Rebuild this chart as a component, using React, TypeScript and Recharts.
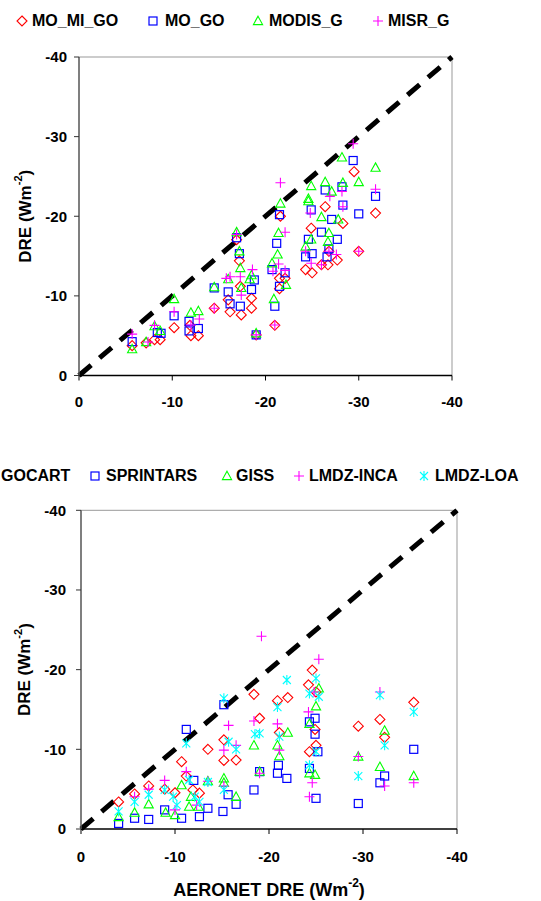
import { ScatterChart, Scatter, XAxis, YAxis, ReferenceLine, Legend } from 'recharts';

const FONT = '"Liberation Sans", Arial, Helvetica, sans-serif';
const TICKS = [0, -10, -20, -30, -40];

// top panel: satellite-based DRE vs AERONET
const moMiGo: [number, number][] = [
  [-5.7, -3.75], [-7.2, -4.1], [-8.1, -4.5], [-8.7, -4.5], [-10.2, -6.0], [-12.0, -5.0], [-12.8, -5.0],
  [-11.9, -6.3], [-14.5, -8.45], [-16.0, -9.5], [-16.2, -8.0], [-16.9, -17.05], [-17.2, -14.4], [-17.3, -11.2],
  [-17.4, -7.6], [-18.5, -9.7], [-18.5, -8.45], [-19.0, -5.1], [-21.0, -6.3], [-21.6, -20.0], [-21.5, -12.2],
  [-22.1, -12.2], [-21.5, -10.9], [-24.9, -18.5], [-26.0, -13.9], [-26.7, -13.9], [-27.7, -14.5], [-26.8, -15.6],
  [-24.3, -13.3], [-25.0, -12.9], [-26.4, -21.2], [-28.3, -19.1], [-29.5, -25.6], [-31.8, -20.4], [-30.0, -15.6],
];
const moGo: [number, number][] = [
  [-5.7, -4.25], [-8.4, -5.4], [-8.8, -5.3], [-10.2, -7.5], [-11.8, -6.8], [-11.8, -5.6], [-12.8, -5.9],
  [-14.5, -11.0], [-16.0, -10.5], [-16.2, -9.0], [-16.9, -17.3], [-17.2, -15.3], [-17.3, -8.7], [-18.5, -10.8],
  [-18.8, -12.0], [-19.0, -5.1], [-21.5, -20.2], [-21.2, -16.6], [-20.7, -13.3], [-21.0, -8.7], [-22.1, -12.9],
  [-21.5, -11.2], [-24.9, -20.8], [-28.3, -21.4], [-27.1, -19.6], [-30.0, -20.3], [-31.8, -22.5], [-26.0, -18.0],
  [-24.6, -17.1], [-27.7, -17.1], [-25.0, -15.3], [-24.3, -14.9], [-26.8, -15.9], [-26.6, -14.9], [-26.4, -23.3],
  [-28.2, -23.7], [-29.4, -27.0],
];
const modisG: [number, number][] = [
  [-5.7, -3.3], [-7.2, -4.2], [-8.1, -6.2], [-8.7, -5.6], [-10.2, -9.6], [-12.0, -7.9], [-12.8, -8.1],
  [-14.5, -11.1], [-16.0, -12.1], [-16.9, -18.0], [-17.2, -15.6], [-17.3, -13.5], [-17.4, -11.0], [-18.5, -12.6],
  [-18.3, -12.1], [-19.0, -5.3], [-21.6, -21.6], [-21.4, -17.9], [-21.3, -15.2], [-20.7, -14.1], [-20.9, -9.6],
  [-22.2, -11.4], [-24.6, -21.9], [-26.0, -19.9], [-27.8, -19.6], [-26.8, -17.9], [-24.9, -17.1], [-26.7, -16.8],
  [-24.3, -16.2], [-24.9, -23.8], [-26.4, -24.3], [-27.1, -23.1], [-28.3, -24.2], [-24.6, -22.2], [-28.2, -27.4],
  [-31.8, -26.1], [-30.0, -24.3],
];
const misrG: [number, number][] = [
  [-5.7, -5.2], [-7.4, -4.2], [-8.1, -6.3], [-10.2, -8.0], [-12.0, -6.35], [-12.9, -7.1], [-14.5, -8.45],
  [-15.8, -12.2], [-16.2, -12.4], [-16.9, -17.7], [-17.3, -12.4], [-17.4, -10.1], [-18.6, -13.3], [-19.0, -5.1],
  [-21.0, -6.35], [-21.6, -24.2], [-22.1, -18.0], [-21.4, -14.0], [-20.8, -13.1], [-22.1, -13.2], [-24.8, -20.4],
  [-28.3, -21.2], [-24.3, -15.6], [-26.8, -15.6], [-27.6, -15.2], [-26.0, -13.9], [-24.9, -14.1], [-30.0, -15.6],
  [-29.4, -29.1], [-31.8, -23.4], [-26.9, -22.5], [-28.2, -23.1],
];

// bottom panel: model DRE vs AERONET
const gocart: [number, number][] = [
  [-4.0, -3.4], [-5.7, -4.4], [-7.2, -5.4], [-8.9, -5.0], [-10.0, -4.55], [-10.7, -8.45], [-11.2, -6.65],
  [-11.9, -4.9], [-12.6, -4.5], [-13.5, -10.0], [-15.2, -11.2], [-15.2, -8.6], [-16.5, -8.65], [-18.4, -16.9],
  [-19.0, -13.9], [-20.9, -16.1], [-22.0, -16.5], [-21.1, -12.1], [-24.6, -19.95], [-24.2, -18.1], [-25.0, -17.2],
  [-24.9, -12.5], [-25.0, -10.5], [-24.3, -9.7], [-29.5, -12.9], [-31.8, -13.75], [-32.3, -11.5], [-35.4, -15.9],
];
const sprintars: [number, number][] = [
  [-4.0, -0.7], [-5.7, -1.35], [-7.2, -1.2], [-8.9, -2.4], [-10.7, -1.35], [-11.2, -12.5], [-12.0, -6.1],
  [-12.6, -1.55], [-13.5, -2.6], [-15.2, -15.6], [-15.65, -4.3], [-15.1, -2.2], [-16.5, -3.1], [-18.4, -4.9],
  [-19.0, -7.2], [-20.9, -7.0], [-21.0, -8.0], [-21.9, -6.35], [-24.9, -13.9], [-24.3, -13.45], [-24.9, -11.9],
  [-25.2, -9.7], [-24.3, -7.6], [-25.0, -3.85], [-29.5, -3.2], [-32.3, -6.65], [-31.8, -5.8], [-35.4, -10.0],
];
const giss: [number, number][] = [
  [-4.0, -1.5], [-5.7, -2.05], [-7.2, -3.1], [-9.0, -2.05], [-10.0, -1.75], [-10.7, -5.5], [-11.7, -4.05],
  [-11.5, -2.8], [-12.5, -2.8], [-13.5, -6.0], [-15.2, -6.35], [-15.2, -5.8], [-16.5, -4.05], [-18.4, -10.5],
  [-19.0, -7.2], [-20.9, -10.5], [-21.1, -9.15], [-22.0, -12.1], [-25.3, -17.65], [-25.0, -15.4], [-24.3, -13.2],
  [-24.3, -7.0], [-24.9, -6.8], [-29.5, -9.1], [-32.3, -12.35], [-31.8, -7.8], [-35.4, -6.65],
];
const lmdzInca: [number, number][] = [
  [-5.7, -4.05], [-7.2, -5.0], [-8.9, -6.1], [-10.0, -2.4], [-11.2, -7.2], [-12.3, -3.0], [-13.5, -6.0],
  [-15.2, -9.9], [-15.7, -13.0], [-15.2, -5.4], [-16.5, -10.5], [-18.4, -13.55], [-19.0, -7.0], [-19.2, -24.2],
  [-20.9, -13.2], [-21.1, -9.9], [-25.3, -21.3], [-24.8, -17.2], [-24.2, -14.7], [-24.6, -5.8], [-24.3, -4.05],
  [-29.5, -9.1], [-31.8, -17.2], [-32.3, -5.4], [-35.4, -5.8],
];
const lmdzLoa: [number, number][] = [
  [-4.0, -2.2], [-5.7, -3.4], [-7.2, -4.3], [-8.9, -4.9], [-9.8, -4.05], [-10.2, -3.0], [-11.2, -10.75],
  [-11.5, -6.15], [-12.1, -4.05], [-12.6, -3.4], [-13.5, -5.9], [-15.2, -16.4], [-15.7, -10.95], [-15.2, -4.9],
  [-16.5, -10.0], [-18.5, -11.9], [-19.0, -12.0], [-21.9, -18.7], [-20.9, -15.3], [-21.1, -11.6], [-25.0, -18.9],
  [-24.3, -17.0], [-25.3, -16.6], [-25.0, -9.7], [-24.3, -8.0], [-29.5, -6.65], [-31.8, -16.8], [-32.3, -10.5],
  [-35.4, -14.7],
];

const pts = (a: [number, number][]) => a.map(([x, y]) => ({ x, y }));

const Diamond = ({ cx, cy }: any) => (
  <path d={`M${cx},${cy - 5}L${cx + 5},${cy}L${cx},${cy + 5}L${cx - 5},${cy}Z`} fill="none" stroke="#ff0000" strokeWidth={1.1} />
);
const Square = ({ cx, cy }: any) => (
  <rect x={cx - 4} y={cy - 4} width={8} height={8} fill="none" stroke="#0000ff" strokeWidth={1.2} />
);
const Triangle = ({ cx, cy }: any) => (
  <path d={`M${cx},${cy - 4.8}L${cx + 4.6},${cy + 3.6}L${cx - 4.6},${cy + 3.6}Z`} fill="none" stroke="#00ff00" strokeWidth={1.1} />
);
const Plus = ({ cx, cy }: any) => (
  <path d={`M${cx - 5},${cy}H${cx + 5}M${cx},${cy - 5}V${cy + 5}`} stroke="#ff00ff" strokeWidth={1.1} />
);
const Star = ({ cx, cy }: any) => (
  <path
    d={`M${cx},${cy - 5}V${cy + 5}M${cx - 4},${cy - 4}L${cx + 4},${cy + 4}M${cx - 4},${cy + 4}L${cx + 4},${cy - 4}`}
    stroke="#00ffff"
    strokeWidth={1.1}
  />
);

const topSeries = [
  { name: 'MO_MI_GO', data: moMiGo, shape: Diamond },
  { name: 'MO_GO', data: moGo, shape: Square },
  { name: 'MODIS_G', data: modisG, shape: Triangle },
  { name: 'MISR_G', data: misrG, shape: Plus },
];
const bottomSeries = [
  { name: 'GOCART', data: gocart, shape: Diamond },
  { name: 'SPRINTARS', data: sprintars, shape: Square },
  { name: 'GISS', data: giss, shape: Triangle },
  { name: 'LMDZ-INCA', data: lmdzInca, shape: Plus },
  { name: 'LMDZ-LOA', data: lmdzLoa, shape: Star },
];

// legend layout: symbol centre x, text start x
const topLegendPos = [[22, 32], [153, 165], [258, 269], [378, 388]];
const bottomLegendPos = [[-10, 1], [95, 106], [227, 236], [299, 309], [424, 435]];

const makeLegend = (series: any[], pos: number[][]) => () => (
  <div style={{ position: 'relative', width: 541, height: 22, fontFamily: FONT, fontWeight: 700, fontSize: 16 }}>
    {series.map((s, i) => {
      const Shape = s.shape;
      return (
        <div key={s.name}>
          <svg style={{ position: 'absolute', left: pos[i][0] - 6, top: 5 }} width={12} height={12}>
            <Shape cx={6} cy={6} />
          </svg>
          <span style={{ position: 'absolute', left: pos[i][1], top: 0, lineHeight: '22px', whiteSpace: 'nowrap', color: '#000' }}>
            {s.name}
          </span>
        </div>
      );
    })}
  </div>
);

const tickStyle = { fontSize: 15, fontWeight: 700, fill: '#000', fontFamily: FONT };
const fmt = (v: number) => String(v);

const YTitle = ({ viewBox }: any) => {
  const cy = viewBox.y + viewBox.height / 2;
  return (
    <text x={25} y={cy} transform={`rotate(-90 25 ${cy})`} textAnchor="middle" dominantBaseline="central"
      style={{ fontFamily: FONT, fontWeight: 700, fontSize: 17, fill: '#000' }}>
      DRE (Wm<tspan dy={-7} fontSize={11}>-2</tspan><tspan dy={7}>)</tspan>
    </text>
  );
};

const XTitle = ({ viewBox }: any) => {
  const cx = viewBox.x + viewBox.width / 2;
  return (
    <text x={cx} y={430} textAnchor="middle" dominantBaseline="central"
      style={{ fontFamily: FONT, fontWeight: 700, fontSize: 18, fill: '#000' }}>
      AERONET DRE (Wm<tspan dy={-7} fontSize={12}>-2</tspan><tspan dy={7}>)</tspan>
    </text>
  );
};

function Panel({ series, legendPos, width, height, margin, yAxisWidth, yTickMargin, xTickMargin, legendTop, xTitle }: any) {
  return (
    <ScatterChart width={width} height={height} margin={margin}>
      <XAxis
        type="number"
        dataKey="x"
        domain={[-40, 0]}
        reversed
        ticks={TICKS}
        tickFormatter={fmt}
        allowDataOverflow
        height={40}
        tick={tickStyle}
        tickSize={5}
        tickMargin={xTickMargin}
        axisLine={{ stroke: '#000', strokeWidth: 1.5 }}
        tickLine={{ stroke: '#000' }}
        label={xTitle ? <XTitle /> : undefined}
      />
      <YAxis
        type="number"
        dataKey="y"
        domain={[-40, 0]}
        reversed
        ticks={TICKS}
        tickFormatter={fmt}
        allowDataOverflow
        width={yAxisWidth}
        tick={tickStyle}
        tickSize={5}
        tickMargin={yTickMargin}
        axisLine={{ stroke: '#555', strokeWidth: 1.5 }}
        tickLine={{ stroke: '#333' }}
        label={<YTitle />}
      />
      <ReferenceLine y={-40} stroke="#999" strokeWidth={1} />
      <ReferenceLine x={-40} stroke="#999" strokeWidth={1} />
      <Legend
        layout="vertical"
        align="center"
        verticalAlign="middle"
        wrapperStyle={{ top: legendTop, left: 0, width: 541, height: 22 }}
        content={makeLegend(series, legendPos)}
      />
      {series.map((s: any) => (
        <Scatter key={s.name} name={s.name} data={pts(s.data)} shape={s.shape} isAnimationActive={false} />
      ))}
      <ReferenceLine
        segment={[{ x: 0, y: 0 }, { x: -40, y: -40 }]}
        stroke="#000"
        strokeWidth={5}
        strokeDasharray="16 11"
      />
    </ScatterChart>
  );
}

export default function App() {
  return (
    <div style={{ position: 'absolute', left: 0, top: 0, width: 541, height: 901, background: '#fff', overflow: 'hidden' }}>
      <div style={{ position: 'absolute', left: 0, top: 0 }}>
        <Panel
          series={topSeries}
          legendPos={topLegendPos}
          width={541}
          height={420}
          margin={{ top: 57, right: 89, bottom: 4.5, left: 0 }}
          yAxisWidth={79}
          yTickMargin={7}
          xTickMargin={16}
          legendTop={10}
          xTitle={false}
        />
      </div>
      <div style={{ position: 'absolute', left: 0, top: 460 }}>
        <Panel
          series={bottomSeries}
          legendPos={bottomLegendPos}
          width={541}
          height={441}
          margin={{ top: 50.3, right: 84, bottom: 32, left: 0 }}
          yAxisWidth={81}
          yTickMargin={10}
          xTickMargin={17}
          legendTop={5}
          xTitle
        />
      </div>
    </div>
  );
}
